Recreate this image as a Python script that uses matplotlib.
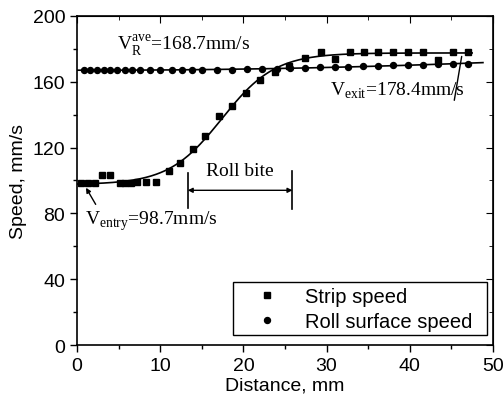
import numpy as np
import matplotlib
matplotlib.use("Agg")
import matplotlib.pyplot as plt
from matplotlib.ticker import MultipleLocator
from matplotlib.patches import Rectangle

# ---- data ----
strip_x = [0.5, 1.3, 2.1, 3.0, 3.9, 5.1, 5.8, 6.5, 7.2, 8.3, 9.5, 11.0, 12.4, 13.9,
           15.4, 17.1, 18.6, 20.3, 22.0, 23.8, 25.5, 27.4, 29.3, 31.0, 32.8, 34.5,
           36.2, 38.0, 39.8, 41.6, 43.4, 45.2, 47.0]
strip_y = [98.5, 98.7, 98.5, 103.0, 103.0, 98.5, 98.5, 98.7, 98.9, 99.0, 99.1, 105.5,
           110.5, 118.8, 127.2, 139.0, 145.0, 153.0, 160.8, 165.8, 169.7, 174.4,
           178.2, 173.9, 178.2, 178.2, 178.2, 178.2, 178.2, 178.2, 173.2, 178.2, 178.2]

roll_x = [0.8, 1.6, 2.4, 3.2, 4.0, 4.8, 5.8, 6.6, 7.6, 8.8, 10.0, 11.4, 12.6, 13.8,
          15.0, 16.8, 18.6, 20.4, 22.2, 24.0, 25.6, 27.4, 29.2, 31.0, 32.6, 34.4,
          36.2, 38.0, 39.8, 41.6, 43.4, 45.2, 47.0]
roll_y = [167.0, 167.1, 167.0, 167.0, 167.1, 167.0, 167.0, 167.1, 167.0, 167.0, 167.1,
          167.0, 167.1, 167.2, 167.2, 167.3, 167.3, 167.5, 167.6, 167.8, 168.0, 168.3,
          168.6, 168.9, 169.2, 169.5, 169.8, 170.0, 170.2, 170.4, 170.5, 170.6, 170.7]

x_ticks = [0, 10, 20, 30, 40, 50]
y_ticks = [0, 40, 80, 120, 160, 200]

# ---- fits (derived from the data) ----
sx = np.array(strip_x); sy = np.array(strip_y)
best = None
for x0 in np.linspace(12, 24, 121):
    for dx in np.linspace(1.0, 8.0, 71):
        s = 1.0 / (1.0 + np.exp((sx - x0) / dx))
        A = np.column_stack([s, 1 - s])
        coef, *_ = np.linalg.lstsq(A, sy, rcond=None)
        r = np.sum((A @ coef - sy) ** 2)
        if best is None or r < best[0]:
            best = (r, x0, dx, coef)
_, bx0, bdx, bcoef = best
fx = np.linspace(0, 47.5, 300)
fs = 1.0 / (1.0 + np.exp((fx - bx0) / bdx))
fy = bcoef[0] * fs + bcoef[1] * (1 - fs)

rp = np.polyfit(roll_x, roll_y, 2)
rx = np.linspace(0, 48.8, 200)
ry = np.polyval(rp, rx)

# ---- figure ----
fig = plt.figure(figsize=(5.04, 4.10), dpi=100)
ax = fig.add_axes([0.153, 0.156, 0.825, 0.803])
sans = "Liberation Sans"
serif = "Liberation Serif"

ax.plot(fx, fy, color="black", lw=1.2, zorder=2)
ax.plot(rx, ry, color="black", lw=1.2, zorder=2)
ax.plot(strip_x, strip_y, ls="none", marker="s", ms=4.3, color="black",
        label="Strip speed", zorder=3)
ax.plot(roll_x, roll_y, ls="none", marker="o", ms=4.3, color="black",
        label="Roll surface speed", zorder=3)

ax.set_xlim(0, 50)
ax.set_ylim(0, 200)
ax.set_xticks(x_ticks)
ax.set_yticks(y_ticks)
ax.xaxis.set_minor_locator(MultipleLocator(5))
ax.yaxis.set_minor_locator(MultipleLocator(20))
ax.tick_params(which="both", direction="out", top=False, right=False,
               labelsize=14, width=1.0)
ax.tick_params(which="major", length=5)
ax.tick_params(which="minor", length=3)
for lab in ax.get_xticklabels() + ax.get_yticklabels():
    lab.set_fontfamily(sans)
ax2 = ax.secondary_xaxis("top")
ax2.set_xticks(x_ticks)
ax2.xaxis.set_minor_locator(MultipleLocator(5))
ax2.tick_params(which="both", direction="in", labeltop=False)
ax2.tick_params(which="major", length=5)
ax2.tick_params(which="minor", length=3)
ax3 = ax.secondary_yaxis("right")
ax3.set_yticks(y_ticks)
ax3.yaxis.set_minor_locator(MultipleLocator(20))
ax3.tick_params(which="both", direction="in", labelright=False)
ax3.tick_params(which="major", length=5)
ax3.tick_params(which="minor", length=3)
for sp in ax.spines.values():
    sp.set_linewidth(1.2)

ax.set_xlabel("Distance, mm", fontsize=14, family=sans, labelpad=2)
ax.set_ylabel("Speed, mm/s", fontsize=14, family=sans, labelpad=4)

# annotations
ax.text(4.8, 182.5, r"V$_\mathregular{R}^\mathregular{ave}$=168.7mm/s", fontsize=14,
        family=serif, ha="left", va="center")
ax.text(30.4, 155.0, r"V$_\mathregular{exit}$=178.4mm/s", fontsize=14,
        family=serif, ha="left", va="center")
ax.annotate("", xy=(46.3, 177.0), xytext=(45.3, 147.0),
            arrowprops=dict(arrowstyle="-", color="black", lw=1.0))
ax.text(0.9, 76.0, r"V$_\mathregular{entry}$=98.7mm/s", fontsize=14,
        family=serif, ha="left", va="center")
ax.annotate("", xy=(0.9, 97.0), xytext=(2.4, 84.0),
            arrowprops=dict(arrowstyle="-|>", color="black", lw=1.0,
                            mutation_scale=7))
ax.text(19.6, 106.0, "Roll bite", fontsize=14, family=serif, ha="center", va="center")
ax.plot([13.3, 13.3], [83.5, 104.5], color="black", lw=1.2)
ax.plot([25.9, 25.9], [82.5, 105.5], color="black", lw=1.2)
ax.annotate("", xy=(13.3, 94.0), xytext=(25.9, 94.0),
            arrowprops=dict(arrowstyle="<|-|>", color="black", lw=1.0,
                            mutation_scale=7, shrinkA=0, shrinkB=0))

# legend (frame drawn separately to match the reference proportions)
leg = ax.legend(loc="center left", bbox_to_anchor=(0.408, 0.110),
                prop={"family": sans, "size": 14.5}, numpoints=1, handlelength=2.0,
                frameon=False, borderpad=0.0, borderaxespad=0.0,
                labelspacing=0.3, handletextpad=0.9)
ax.add_patch(Rectangle((0.375, 0.030), 0.611, 0.160, transform=ax.transAxes,
                       fill=True, facecolor="white", edgecolor="black", lw=1.0,
                       zorder=4))
leg.set_zorder(5)

fig.savefig("out.png", dpi=100)
